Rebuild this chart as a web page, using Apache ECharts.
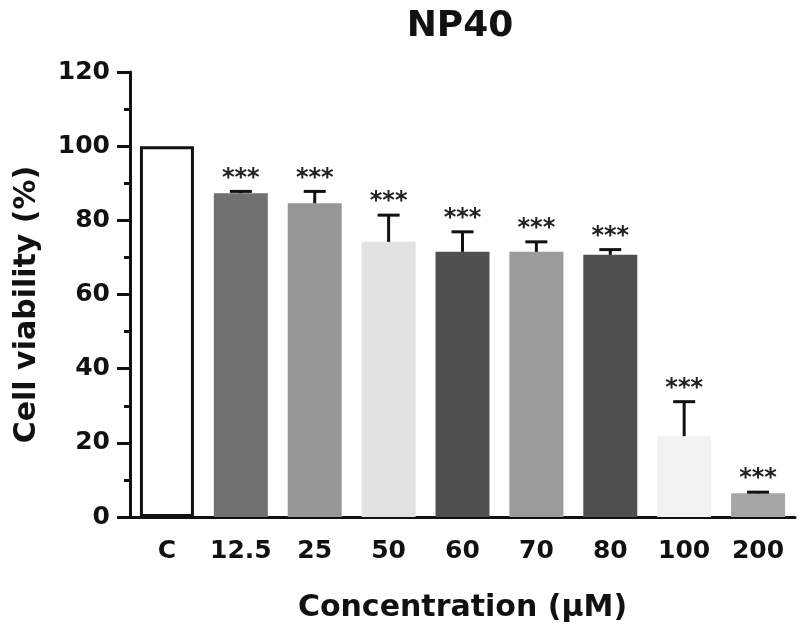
<!DOCTYPE html>
<html>
<head>
<meta charset="utf-8">
<script src="https://cdn.jsdelivr.net/npm/echarts@6/dist/echarts.min.js"></script>
<style>html,body{margin:0;padding:0;background:#fff}#c{width:800px;height:641px}</style>
</head>
<body>
<div id="c"></div>
<script>
const categories = ['C', '12.5', '25', '50', '60', '70', '80', '100', '200'];
const viability = [100, 87.3, 84.6, 74.2, 71.5, 71.5, 70.7, 21.8, 6.4];
const errorUp = [0, 0.5, 3.2, 7.2, 5.4, 2.7, 1.4, 9.3, 0.3];
const significance = ['', '***', '***', '***', '***', '***', '***', '***', '***'];
const yTicks = [0, 20, 40, 60, 80, 100, 120];

const barColors = ['#ffffff', '#717171', '#979797', '#e2e2e2', '#505050', '#9b9b9b', '#4f4f4f', '#f2f2f2', '#a6a6a6'];
const FONT = 'DejaVu Sans';

const chart = echarts.init(document.getElementById('c'));
chart.setOption({
  animation: false,
  backgroundColor: '#fff',
  title: {
    text: 'NP40', left: 460, top: 9, textAlign: 'center', padding: 0,
    textStyle: { fontFamily: FONT, fontWeight: 'bold', fontSize: 36, color: '#111' }
  },
  grid: { left: 130, right: 5, top: 72, bottom: 124, containLabel: false },
  xAxis: {
    type: 'category', data: categories,
    name: 'Concentration (µM)', nameLocation: 'middle', nameGap: 76,
    nameTextStyle: { fontFamily: FONT, fontWeight: 'bold', fontSize: 30, color: '#111' },
    axisLine: { lineStyle: { color: '#111', width: 3 } },
    axisTick: { alignWithLabel: true, interval: 0, length: 11, lineStyle: { color: '#111', width: 3 } },
    axisLabel: { interval: 0, margin: 22, fontFamily: FONT, fontWeight: 'bold', fontSize: 25, color: '#111' }
  },
  yAxis: {
    type: 'value', min: 0, max: 120, interval: 20,
    name: 'Cell viability (%)', nameLocation: 'middle', nameGap: 88,
    nameTextStyle: { fontFamily: FONT, fontWeight: 'bold', fontSize: 30, color: '#111', padding: [0, 20, 0, 0] },
    axisLine: { show: true, lineStyle: { color: '#111', width: 3 } },
    axisTick: { show: true, length: 13, lineStyle: { color: '#111', width: 3 } },
    minorTick: { show: true, splitNumber: 2, length: 6, lineStyle: { color: '#111', width: 3 } },
    splitLine: { show: false },
    axisLabel: {
      margin: 20, fontFamily: FONT, fontWeight: 'bold', fontSize: 25, color: '#111',
      formatter: v => (yTicks.indexOf(v) >= 0 ? String(v) : '')
    }
  },
  series: [
    {
      type: 'bar', barWidth: 54,
      data: viability.map((v, i) => ({
        value: v,
        itemStyle: i === 0
          ? { color: '#fff', borderColor: '#111', borderWidth: 3 }
          : { color: barColors[i] }
      }))
    },
    {
      type: 'custom', z: 5,
      data: viability.map((v, i) => [i, v, errorUp[i]]),
      renderItem: function (params, api) {
        const i = api.value(0), m = api.value(1), e = api.value(2);
        const label = significance[i];
        if (!label) return { type: 'group', children: [] };
        const base = api.coord([i, m]);
        const top = api.coord([i, m + e]);
        const half = 11;
        const children = [];
        children.push({ type: 'line', shape: { x1: top[0], y1: base[1], x2: top[0], y2: top[1] }, style: { stroke: '#111', lineWidth: 3 } });
        children.push({ type: 'line', shape: { x1: top[0] - half, y1: top[1], x2: top[0] + half, y2: top[1] }, style: { stroke: '#111', lineWidth: 3 } });
        children.push({
          type: 'text', x: top[0], y: top[1] - 1,
          style: { text: label, textAlign: 'center', textVerticalAlign: 'bottom', font: 'bold 24px "DejaVu Sans"', fill: '#222' }
        });
        return { type: 'group', children: children };
      }
    }
  ]
});
</script>
</body>
</html>
